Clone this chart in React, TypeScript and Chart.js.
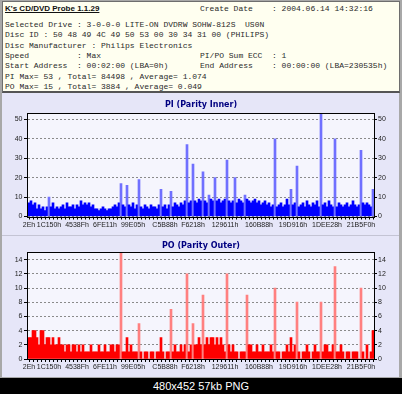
import React, { useEffect, useRef } from 'react';
import { Chart, registerables } from 'chart.js';

Chart.register(...registerables);

// ---------- data ----------
const piValues: number[] = [
  7, 8, 6, 7, 4, 6, 4, 5, 3, 5,
  10, 5, 7, 4, 5, 4, 5, 6, 4, 7,
  5, 5, 6, 4, 6, 5, 8, 6, 7, 6,
  7, 5, 6, 4, 4, 3, 4, 5, 4, 3,
  4, 4, 5, 6, 5, 7, 17, 6, 5, 16,
  6, 5, 7, 4, 6, 19, 5, 4, 6, 5,
  4, 6, 5, 5, 4, 6, 14, 5, 6, 4,
  6, 13, 5, 7, 6, 5, 7, 6, 8, 37,
  7, 8, 27, 8, 7, 9, 8, 23, 8, 7,
  11, 9, 8, 20, 8, 9, 7, 8, 9, 29,
  8, 7, 8, 20, 7, 9, 8, 7, 11, 9,
  8, 7, 8, 9, 7, 8, 6, 7, 8, 6,
  7, 5, 6, 40, 5, 6, 7, 5, 6, 9,
  6, 14, 6, 7, 26, 5, 6, 7, 5, 8,
  6, 5, 7, 6, 8, 5, 53, 6, 7, 5,
  8, 6, 5, 40, 5, 7, 6, 5, 6, 7,
  5, 6, 8, 6, 5, 6, 34, 7, 6, 7,
  6, 5, 14,
];

const poValues: number[] = [
  3, 3, 4, 4, 3, 2, 4, 4, 2, 3,
  3, 2, 3, 2, 2, 3, 2, 2, 1, 2,
  2, 1, 2, 2, 1, 2, 1, 2, 1, 1,
  1, 2, 1, 1, 1, 2, 1, 1, 2, 1,
  1, 2, 2, 1, 2, 2, 15, 1, 1, 3,
  1, 2, 1, 1, 1, 5, 1, 0, 1, 1,
  0, 1, 1, 0, 1, 1, 3, 1, 0, 1,
  1, 7, 1, 2, 1, 1, 2, 1, 2, 12,
  1, 2, 5, 2, 2, 3, 2, 9, 2, 3,
  2, 3, 3, 2, 3, 2, 3, 2, 1, 12,
  2, 1, 2, 1, 1, 0, 1, 1, 1, 9,
  2, 2, 1, 1, 2, 1, 1, 2, 1, 1,
  1, 2, 1, 10, 1, 1, 0, 1, 1, 2,
  1, 3, 1, 2, 8, 1, 0, 1, 1, 2,
  1, 0, 1, 2, 1, 1, 8, 1, 2, 2,
  1, 1, 2, 13, 1, 1, 2, 1, 0, 1,
  1, 0, 1, 1, 1, 0, 10, 1, 0, 2,
  0, 1, 4,
];

const xTickLabels = ['2Eh', '1C150h', '4538Fh', '6FE11h', '99E05h', 'C5B88h', 'F6218h', '129611h', '160B88h', '19D916h', '1DEE28h', '21B5F0h'];
const xTickIndices = [0, 10, 24, 38, 52, 68, 82, 98, 115, 132, 149, 166];

const piAxisMax = 53;
const piAxisStep = 10;
const poAxisMax = 15;
const poAxisStep = 2;

const appTitle = "K's CD/DVD Probe 1.1.29";
const infoLeftLines = [
  'Selected Drive : 3-0-0-0 LITE-ON DVDRW SOHW-812S  US0N',
  'Disc ID : 50 48 49 4C 49 50 53 00 30 34 31 00 (PHILIPS)',
  'Disc Manufacturer : Philips Electronics',
  'Speed          : Max',
  'Start Address  : 00:02:00 (LBA=0h)',
  'PI Max= 53 , Total= 84498 , Average= 1.074',
  'PO Max= 15 , Total= 3884 , Average= 0.049',
];
const infoCreate = 'Create Date    : 2004.06.14 14:32:16';
const infoSum = 'PI/PO Sum ECC  : 1';
const infoEnd = 'End Address    : 00:00:00 (LBA=230535h)';
const caption = '480x452 57kb PNG';

// ---------- chart helper ----------
type ChartCfg = {
  values: number[];
  title: string;
  max: number;
  step: number;
  base: string;
  light: string;
  spikeAt: number;
  titlePad: { top: number; bottom: number };
  xHeight: number;
};

const tickFont = { family: "'Liberation Sans', Arial, sans-serif", size: 7 };

function buildChart(canvas: HTMLCanvasElement, c: ChartCfg) {
  const labels = c.values.map((_, i) => String(i));
  const tickMap = new Map<number, string>(xTickIndices.map((idx, k) => [idx, xTickLabels[k]]));
  const framePlugin = {
    id: 'frame',
    beforeDraw(chart: any) {
      const { ctx, chartArea: a } = chart;
      ctx.save();
      ctx.fillStyle = '#f5f5fd';
      ctx.fillRect(a.left, a.top, a.right - a.left, a.bottom - a.top);
      ctx.restore();
    },
    afterDatasetsDraw(chart: any) {
      const { ctx, chartArea: a } = chart;
      ctx.save();
      ctx.strokeStyle = '#000';
      ctx.lineWidth = 1;
      const l = Math.round(a.left) - 0.5;
      const t = Math.round(a.top) - 0.5;
      const r = Math.round(a.right) + 0.5;
      const b = Math.round(a.bottom) + 0.5;
      ctx.strokeRect(l, t, r - l, b - t);
      ctx.restore();
    },
  };
  return new Chart(canvas, {
    type: 'bar',
    data: {
      labels,
      datasets: [
        {
          data: c.values,
          backgroundColor: (ctx: any) => ((ctx.raw as number) >= c.spikeAt ? c.light : c.base),
          borderWidth: 0,
          barPercentage: 1,
          categoryPercentage: 1,
        },
      ],
    },
    options: {
      animation: false,
      responsive: false,
      maintainAspectRatio: false,
      layout: { padding: 0 },
      plugins: {
        legend: { display: false },
        tooltip: { enabled: false },
        title: {
          display: true,
          text: c.title,
          color: '#000080',
          font: { family: "'DejaVu Sans', Verdana, sans-serif", size: 8, weight: 'bold' },
          padding: c.titlePad,
        },
      },
      scales: {
        x: {
          type: 'category',
          grid: {
            drawOnChartArea: false,
            drawTicks: true,
            tickLength: 3,
            offset: false,
            tickColor: (ctx: any) => (ctx.index % 2 === 0 ? '#000' : 'rgba(0,0,0,0)'),
          },
          border: { display: false },
          ticks: {
            autoSkip: false,
            maxRotation: 0,
            minRotation: 0,
            padding: 1,
            color: '#222',
            font: tickFont,
            callback: (_v: any, i: number) => tickMap.get(i) ?? '',
          },
          afterFit: (s: any) => {
            s.height = c.xHeight;
          },
        },
        y: {
          position: 'left',
          min: 0,
          max: c.max,
          ticks: { stepSize: c.step, includeBounds: false, padding: 1.5, color: '#222', font: tickFont },
          grid: { color: '#8a8a8a', tickColor: '#000', tickLength: 4, tickBorderDash: [] },
          border: { display: false, dash: [2, 2] },
          afterFit: (s: any) => {
            s.width = 28;
          },
        },
        y2: {
          position: 'right',
          min: 0,
          max: c.max,
          ticks: { stepSize: c.step, includeBounds: false, padding: 1, color: '#222', font: tickFont },
          grid: { drawOnChartArea: false, tickColor: '#000', tickLength: 3 },
          border: { display: false },
          afterFit: (s: any) => {
            s.width = 28;
          },
        },
      },
    } as any,
    plugins: [framePlugin],
  });
}

function BarPanel(props: { cfg: ChartCfg; top: number; height: number }) {
  const ref = useRef<HTMLCanvasElement | null>(null);
  useEffect(() => {
    if (!ref.current) return;
    const ch = buildChart(ref.current, props.cfg);
    return () => ch.destroy();
  }, []);
  return (
    <canvas
      ref={ref}
      width={402}
      height={props.height}
      style={{ position: 'absolute', left: 0, top: props.top, width: 402, height: props.height, display: 'block' }}
    />
  );
}

const mono: React.CSSProperties = {
  fontFamily: "'Liberation Mono', 'Courier New', monospace",
  fontSize: 8,
  color: '#2a2a2a',
  whiteSpace: 'pre',
  position: 'absolute',
  lineHeight: '10.33px',
};

export default function App() {
  useEffect(() => {
    document.body.style.margin = '0';
  }, []);
  const piCfg: ChartCfg = {
    values: piValues,
    title: 'PI (Parity Inner)',
    max: piAxisMax,
    step: piAxisStep,
    base: '#0000ff',
    light: '#7070ff',
    spikeAt: 10,
    titlePad: { top: 8.4, bottom: 3.5 },
    xHeight: 19.5,
  };
  const poCfg: ChartCfg = {
    values: poValues,
    title: 'PO (Parity Outer)',
    max: poAxisMax,
    step: poAxisStep,
    base: '#ff0000',
    light: '#ff8080',
    spikeAt: 5,
    titlePad: { top: 4.2, bottom: 1.7 },
    xHeight: 18,
  };
  return (
    <div style={{ position: 'absolute', left: 0, top: 0, width: 402, height: 394, background: '#000', overflow: 'hidden' }}>
      {/* window frame */}
      <div style={{ position: 'absolute', left: 0, top: 0, width: 402, height: 378, background: '#a8a8a8' }} />
      {/* info panel */}
      <div
        style={{
          position: 'absolute',
          left: 2,
          top: 1,
          width: 396,
          height: 89,
          background: '#fffff0',
          border: '1px solid #6e6e6e',
          borderBottom: '2px solid #555',
        }}
      />
      <div
        style={{
          position: 'absolute',
          left: 5,
          top: 3,
          fontFamily: "'Liberation Sans', Arial, sans-serif",
          fontWeight: 'bold',
          fontSize: 8,
          lineHeight: '12px',
          textDecoration: 'underline',
          color: '#111',
          whiteSpace: 'pre',
        }}
      >
        {appTitle}
      </div>
      <div style={{ ...mono, left: 200, top: 4 }}>{infoCreate}</div>
      <div style={{ ...mono, left: 5, top: 20 }}>
        {infoLeftLines.map((l, i) => (
          <div key={i}>{l}</div>
        ))}
      </div>
      <div style={{ ...mono, left: 200, top: 20 + 3 * 10.33 }}>{infoSum}</div>
      <div style={{ ...mono, left: 200, top: 20 + 4 * 10.33 }}>{infoEnd}</div>
      {/* chart panels */}
      <div style={{ position: 'absolute', left: 2, top: 93, width: 397, height: 142, background: '#e6e6f8' }} />
      <div style={{ position: 'absolute', left: 2, top: 235, width: 397, height: 1, background: '#c4c4d4' }} />
      <div style={{ position: 'absolute', left: 2, top: 236, width: 397, height: 141, background: '#e6e6f8' }} />
      <BarPanel cfg={piCfg} top={92} height={144} />
      <BarPanel cfg={poCfg} top={237} height={140} />
      {/* caption band */}
      <div
        style={{
          position: 'absolute',
          left: 0,
          top: 378,
          width: 402,
          height: 16,
          lineHeight: '16px',
          textAlign: 'center',
          color: '#fff',
          fontFamily: "'Liberation Sans', Arial, sans-serif",
          fontSize: 11,
        }}
      >
        {caption}
      </div>
    </div>
  );
}
